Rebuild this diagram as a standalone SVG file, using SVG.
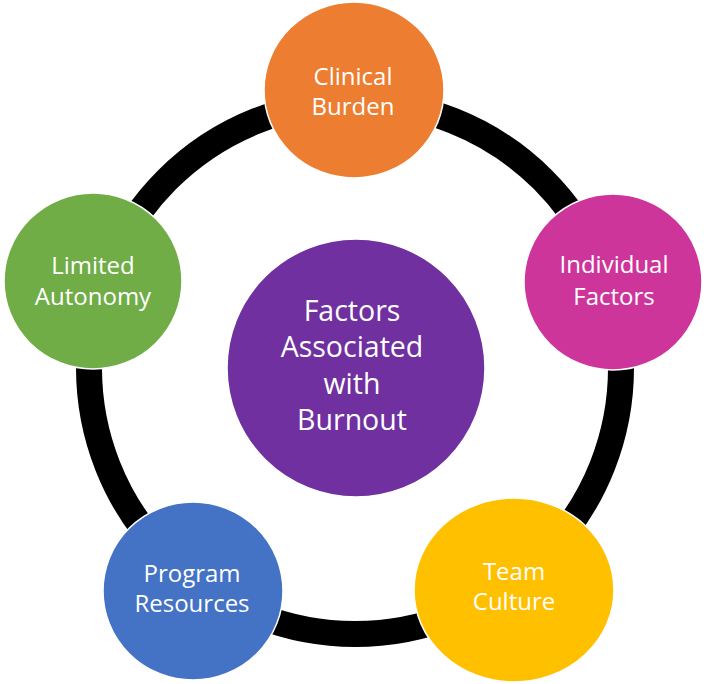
<svg xmlns="http://www.w3.org/2000/svg" width="708" height="684" viewBox="0 0 708 684">
  <style>
    .node { stroke: #ffffff; stroke-width: 1.5; }
    .lbl { font-family: "Open Sans", "Noto Sans", "DejaVu Sans", sans-serif; font-size: 24px; fill: #ffffff; text-anchor: middle; }
    .big { font-size: 28.5px; }
    .ring { fill: none; stroke: #000000; stroke-width: 26; }
  </style>
  <rect x="0" y="0" width="708" height="684" fill="#ffffff"/>
  <g id="connectors">
    <circle class="ring" cx="355" cy="368" r="266"/>
  </g>
  <g id="center">
    <circle class="node" cx="356" cy="368" r="129" fill="#7030A0"/>
    <text class="lbl big" x="352" y="321">Factors</text>
    <text class="lbl big" x="352" y="357">Associated</text>
    <text class="lbl big" x="352" y="394">with</text>
    <text class="lbl big" x="352" y="430">Burnout</text>
  </g>
  <g id="clinical-burden">
    <ellipse class="node" cx="354" cy="90" rx="90" ry="88" fill="#ED7D31"/>
    <text class="lbl" x="353" y="85">Clinical</text>
    <text class="lbl" x="353" y="115">Burden</text>
  </g>
  <g id="individual-factors">
    <ellipse class="node" cx="613" cy="282" rx="89" ry="88" fill="#CD359B"/>
    <text class="lbl" x="614" y="273">Individual</text>
    <text class="lbl" x="614" y="305">Factors</text>
  </g>
  <g id="team-culture">
    <ellipse class="node" cx="514" cy="590" rx="100" ry="92" fill="#FFC000"/>
    <text class="lbl" x="514" y="580">Team</text>
    <text class="lbl" x="514" y="610">Culture</text>
  </g>
  <g id="program-resources">
    <ellipse class="node" cx="193" cy="591" rx="90" ry="89" fill="#4472C4"/>
    <text class="lbl" x="192" y="582">Program</text>
    <text class="lbl" x="192" y="612">Resources</text>
  </g>
  <g id="limited-autonomy">
    <ellipse class="node" cx="93" cy="281" rx="89" ry="88" fill="#70AD47"/>
    <text class="lbl" x="93" y="274">Limited</text>
    <text class="lbl" x="93" y="305">Autonomy</text>
  </g>
</svg>
